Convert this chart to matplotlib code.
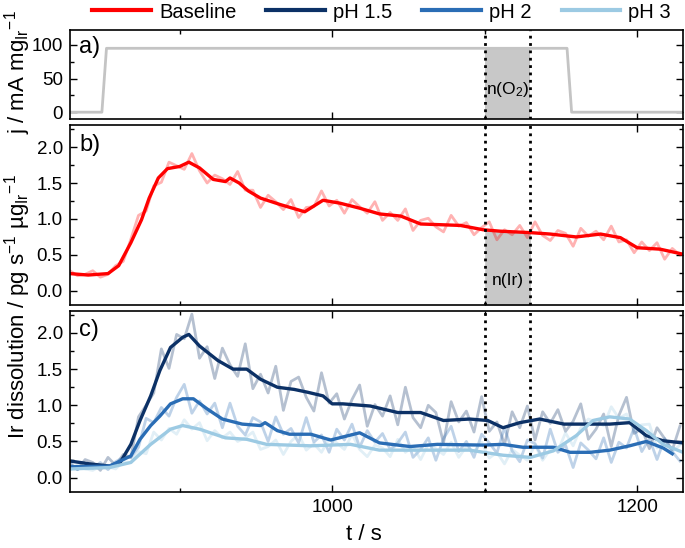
import numpy as np
import matplotlib
matplotlib.use("Agg")
import matplotlib.pyplot as plt
from matplotlib.ticker import MultipleLocator, FormatStrFormatter

plt.rcParams['font.family'] = ['Liberation Sans', 'DejaVu Sans']
plt.rcParams['mathtext.fontset'] = 'custom'
plt.rcParams['mathtext.rm'] = 'Liberation Sans'
plt.rcParams['mathtext.it'] = 'Liberation Sans:italic'

# a) current density step
j_t = [828, 849, 852, 1154, 1157, 1230]
j_v = [0, 0, 95, 95, 0, 0]

# raw signals, one value every 5 s starting at 828 s
base_raw = [0.28, 0.21, 0.23, 0.28, 0.19, 0.23, 0.35, 0.41, 0.72, 1.05,
            1.11, 1.46, 1.51, 1.79, 1.74, 1.69, 1.91, 1.67, 1.50, 1.61,
            1.56, 1.48, 1.66, 1.40, 1.40, 1.16, 1.33, 1.24, 1.13, 1.27,
            1.02, 1.16, 1.17, 1.39, 1.18, 1.26, 1.08, 1.27, 1.17, 1.08,
            1.24, 0.98, 1.09, 0.98, 1.14, 0.84, 0.98, 1.01, 0.89, 0.82,
            1.05, 0.90, 0.95, 0.78, 0.88, 0.96, 0.71, 0.85, 0.78, 0.91,
            0.74, 0.96, 0.77, 0.70, 0.84, 0.80, 0.62, 0.87, 0.76, 0.83,
            0.71, 0.90, 0.68, 0.71, 0.53, 0.68, 0.56, 0.67, 0.44, 0.59,
            0.50]
p15_raw = [0.19, 0.11, 0.25, 0.21, 0.10, 0.28, 0.17, 0.32, 0.28, 0.84,
           1.00, 1.17, 1.78, 1.51, 1.98, 1.92, 2.26, 1.65, 1.81, 1.37,
           1.79, 1.56, 1.40, 1.85, 1.23, 1.43, 1.17, 1.54, 0.93, 1.33,
           1.39, 1.11, 0.92, 1.45, 1.03, 1.16, 0.81, 1.08, 1.28, 0.71,
           1.01, 0.85, 1.13, 0.73, 1.25, 0.83, 0.69, 1.00, 0.90, 0.48,
           1.05, 0.77, 0.92, 0.63, 1.12, 0.64, 0.77, 0.46, 0.91, 0.69,
           0.99, 0.52, 0.91, 0.75, 0.94, 0.64, 0.78, 1.02, 0.53, 0.67,
           0.88, 0.43, 0.86, 1.11, 0.61, 0.68, 0.40, 0.69, 0.54, 0.38,
           0.71]
p2_raw = [0.21, 0.11, 0.17, 0.13, 0.21, 0.11, 0.22, 0.28, 0.28, 0.42,
          0.82, 0.76, 0.97, 0.85, 1.11, 1.29, 0.89, 1.06, 0.88, 1.03,
          0.69, 1.03, 0.71, 0.59, 0.83, 0.77, 0.50, 0.84, 0.60, 0.68,
          0.48, 0.83, 0.49, 0.59, 0.35, 0.67, 0.52, 0.74, 0.42, 0.65,
          0.49, 0.61, 0.39, 0.48, 0.63, 0.28, 0.39, 0.55, 0.24, 0.54,
          0.71, 0.36, 0.50, 0.28, 0.60, 0.48, 0.34, 0.69, 0.37, 0.22,
          0.52, 0.47, 0.27, 0.67, 0.35, 0.45, 0.14, 0.48, 0.38, 0.26,
          0.55, 0.21, 0.49, 0.41, 0.69, 0.36, 0.54, 0.25, 0.54, 0.36,
          0.23]
p3_raw = [0.10, 0.18, 0.12, 0.10, 0.16, 0.15, 0.12, 0.22, 0.21, 0.36,
          0.33, 0.63, 0.52, 0.68, 0.60, 0.80, 0.67, 0.76, 0.51, 0.65,
          0.55, 0.63, 0.50, 0.55, 0.63, 0.39, 0.43, 0.52, 0.32, 0.50,
          0.60, 0.38, 0.47, 0.35, 0.54, 0.48, 0.39, 0.60, 0.39, 0.29,
          0.45, 0.41, 0.29, 0.53, 0.35, 0.43, 0.25, 0.46, 0.40, 0.32,
          0.49, 0.28, 0.43, 0.36, 0.49, 0.27, 0.35, 0.19, 0.39, 0.31,
          0.24, 0.45, 0.24, 0.39, 0.37, 0.62, 0.44, 0.69, 0.81, 0.77,
          0.72, 0.98, 0.82, 0.88, 0.68, 0.73, 0.74, 0.41, 0.47, 0.36,
          0.45]

# smoothed signals
base_t = [828, 840, 853, 860, 868, 875, 880, 886, 892, 900, 906, 913, 922, 930, 933, 939, 945, 953, 966,
          982, 994, 1005, 1018, 1031, 1045, 1058, 1071, 1084, 1099, 1110, 1130, 1143, 1160, 1176, 1189,
          1200, 1215, 1230]
base_s = [0.24, 0.22, 0.24, 0.35, 0.67, 0.99, 1.29, 1.57, 1.70, 1.73, 1.79, 1.71, 1.55, 1.52, 1.57, 1.50,
          1.39, 1.29, 1.20, 1.10, 1.26, 1.22, 1.15, 1.07, 1.04, 0.93, 0.92, 0.91, 0.85, 0.83, 0.81, 0.79,
          0.75, 0.79, 0.74, 0.60, 0.58, 0.51]
p15_t = [828, 841, 854, 861, 868, 874, 881, 887, 894, 902, 906, 913, 925, 935, 944, 953, 964, 975, 984,
         994, 1000, 1007, 1025, 1043, 1058, 1073, 1090, 1102, 1112, 1123, 1136, 1152, 1167, 1182, 1195,
         1206, 1217, 1230]
p15_s = [0.23, 0.19, 0.16, 0.21, 0.46, 0.79, 1.13, 1.48, 1.80, 1.94, 1.98, 1.82, 1.62, 1.50, 1.50, 1.36,
         1.25, 1.22, 1.18, 1.13, 1.02, 1.02, 0.99, 0.90, 0.90, 0.79, 0.81, 0.79, 0.69, 0.76, 0.81, 0.74,
         0.74, 0.74, 0.76, 0.58, 0.51, 0.48]
p2_t = [828, 854, 868, 874, 881, 887, 894, 902, 909, 918, 928, 941, 953, 956, 964, 972, 986, 999, 1018,
        1031, 1051, 1069, 1099, 1112, 1125, 1145, 1156, 1169, 1182, 1195, 1206, 1217, 1223]
p2_s = [0.15, 0.16, 0.30, 0.53, 0.72, 0.85, 1.02, 1.09, 1.09, 0.95, 0.81, 0.74, 0.72, 0.76, 0.65, 0.60,
        0.60, 0.52, 0.62, 0.48, 0.43, 0.46, 0.45, 0.46, 0.42, 0.42, 0.35, 0.35, 0.38, 0.44, 0.50, 0.41,
        0.33]
p3_t = [828, 854, 868, 881, 894, 902, 913, 930, 944, 957, 986, 1012, 1031, 1058, 1090, 1112, 1130, 1145,
        1160, 1171, 1182, 1195, 1206, 1217, 1230]
p3_s = [0.12, 0.14, 0.21, 0.46, 0.67, 0.72, 0.67, 0.55, 0.53, 0.46, 0.44, 0.46, 0.38, 0.38, 0.38, 0.31,
        0.28, 0.37, 0.58, 0.79, 0.84, 0.81, 0.65, 0.46, 0.35]

labels = ['Baseline', 'pH 1.5', 'pH 2', 'pH 3']
colors = ['#ff0000', '#0c3166', '#2a6db5', '#9ccae3']

t0, dt = 828, 5
t_lo, t_hi = 1100, 1130


def style_axis(ax):
    ax.tick_params(which='both', direction='in', top=True, right=True, labelsize=13.5, pad=5)
    ax.tick_params(which='major', length=5, width=1)
    ax.tick_params(which='minor', length=3, width=1)
    ax.xaxis.set_major_locator(MultipleLocator(200))
    ax.xaxis.set_minor_locator(MultipleLocator(100))
    ax.set_xlim(828, 1230)
    for s in ax.spines.values():
        s.set_linewidth(1.2)
    for x in (t_lo, t_hi):
        ax.axvline(x, color='black', ls=':', lw=2, zorder=5)


def dissolution_axis(ax):
    ax.set_ylim(-0.2, 2.3)
    ax.yaxis.set_major_locator(MultipleLocator(0.5))
    ax.yaxis.set_minor_locator(MultipleLocator(0.25))
    ax.yaxis.set_major_formatter(FormatStrFormatter('%.1f'))
    style_axis(ax)


fig = plt.figure(figsize=(6.85, 5.48), dpi=100)
ax_a = fig.add_axes([0.102, 0.783, 0.895, 0.162])
ax_b = fig.add_axes([0.102, 0.443, 0.895, 0.328])
ax_c = fig.add_axes([0.102, 0.102, 0.895, 0.330])

# panel a
ax_a.plot(j_t, j_v, color='#c4c4c4', lw=2)
ax_a.fill_between([t_lo, t_hi], [-10, -10], [95, 95], color='#c8c8c8', lw=0, zorder=0)
ax_a.set_ylim(-10, 122)
ax_a.yaxis.set_major_locator(MultipleLocator(50))
ax_a.yaxis.set_minor_locator(MultipleLocator(25))
ax_a.text(1115, 33, r'n(O$_\mathregular{2}$)', ha='center', va='center', fontsize=12.5)
style_axis(ax_a)
ax_a.tick_params(labelbottom=False)

# panel b
ax_b.plot(t0 + dt * np.arange(len(base_raw)), base_raw, color=colors[0], alpha=0.3, lw=2)
ax_b.plot(base_t, base_s, color=colors[0], lw=2.4)
fx = np.array([t_lo, t_hi])
ax_b.fill_between(fx, -0.2, np.interp(fx, base_t, base_s), color='#c8c8c8', lw=0, zorder=0)
ax_b.text(1115, 0.15, 'n(Ir)', ha='center', va='center', fontsize=12.5)
dissolution_axis(ax_b)
ax_b.tick_params(labelbottom=False)

# panel c
for raw, col in zip([p15_raw, p2_raw, p3_raw], colors[1:]):
    ax_c.plot(t0 + dt * np.arange(len(raw)), raw, color=col, alpha=0.3, lw=2)
for tt, ss, col in zip([p15_t, p2_t, p3_t], [p15_s, p2_s, p3_s], colors[1:]):
    ax_c.plot(tt, ss, color=col, lw=2.4)
dissolution_axis(ax_c)
ax_c.set_xlabel('t / s', fontsize=16, labelpad=6, x=0.48)

for ax, lab, yy in [(ax_a, 'a)', 0.93), (ax_b, 'b)', 0.95), (ax_c, 'c)', 0.955)]:
    ax.text(0.015, yy, lab, transform=ax.transAxes, va='top', ha='left', fontsize=17)

fig.text(0.025, 1 - 72 / 548, r'j / mA mg$_\mathregular{Ir}$$^\mathregular{-1}$',
         rotation=90, ha='center', va='center', fontsize=16)
fig.text(0.025, 1 - 307 / 548,
         r'Ir dissolution / pg s$^\mathregular{-1}$ µg$_\mathregular{Ir}$$^\mathregular{-1}$',
         rotation=90, ha='center', va='center', fontsize=16)

handles = [plt.Line2D([], [], color=c, lw=3) for c in colors]
fig.legend(handles, labels, loc='center', bbox_to_anchor=(0.557, 1 - 12 / 548), ncol=4,
           frameon=False, fontsize=14.5, handlelength=2.9, handletextpad=0.4, columnspacing=1.5,
           borderpad=0.1)

fig.savefig('out.png', dpi=100)
